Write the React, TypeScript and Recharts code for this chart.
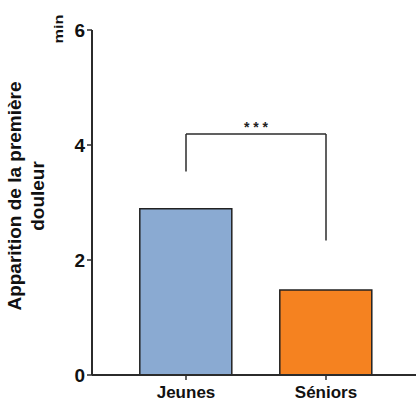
import React from 'react';
import { BarChart, Bar, Cell, XAxis, YAxis, ReferenceLine } from 'recharts';

const groupes = ['Jeunes', 'Séniors'];
const minutes = [2.89, 1.48];
const couleurs = ['#8aaad2', '#f58220'];
const graduations = [0, 2, 4, 6];

// crochet de significativité entre les deux groupes
const crochetHaut = 4.19;
const crochetBasJeunes = 3.54;
const crochetBasSeniors = 2.34;
const signif = '* * *';

const FONT = '"Liberation Sans", Arial, sans-serif';
const INK = '#2b2b2b';

const data = groupes.map((groupe, i) => ({ groupe, minutes: minutes[i] }));

export default function App() {
  return (
    <div style={{ position: 'absolute', left: 0, top: 0, width: 416, height: 398, background: '#fff', fontFamily: FONT }}>
      <BarChart
        width={416}
        height={398}
        data={data}
        margin={{ top: 30, right: 0, bottom: 0, left: 0 }}
        barCategoryGap="17%"
      >
        <XAxis
          dataKey="groupe"
          height={23}
          interval={0}
          padding={{ left: 24, right: 20 }}
          tickSize={5}
          tickMargin={6}
          axisLine={{ stroke: INK, strokeWidth: 2 }}
          tickLine={{ stroke: INK, strokeWidth: 1.5 }}
          tick={{ fontSize: 17, fontWeight: 700, fill: '#111', fontFamily: FONT }}
        />
        <YAxis
          width={92}
          domain={[0, 6]}
          ticks={graduations}
          tickSize={5}
          tickMargin={2}
          axisLine={{ stroke: INK, strokeWidth: 2 }}
          tickLine={{ stroke: INK, strokeWidth: 1.5 }}
          tick={{ fontSize: 19, fontWeight: 700, fill: '#111', fontFamily: FONT }}
        />
        <Bar dataKey="minutes" stroke="#222" strokeWidth={1.5} isAnimationActive={false}>
          {data.map((d, i) => (
            <Cell key={d.groupe} fill={couleurs[i]} />
          ))}
        </Bar>
        <ReferenceLine
          segment={[{ x: groupes[0], y: crochetBasJeunes }, { x: groupes[0], y: crochetHaut }]}
          stroke={INK}
          strokeWidth={1.5}
          ifOverflow="visible"
        />
        <ReferenceLine
          segment={[{ x: groupes[1], y: crochetBasSeniors }, { x: groupes[1], y: crochetHaut }]}
          stroke={INK}
          strokeWidth={1.5}
          ifOverflow="visible"
        />
        <ReferenceLine
          segment={[{ x: groupes[0], y: crochetHaut }, { x: groupes[1], y: crochetHaut }]}
          stroke={INK}
          strokeWidth={1.5}
          ifOverflow="visible"
          label={{ value: signif, position: 'top', offset: 2, fontSize: 14, fontWeight: 700, fill: '#222', fontFamily: FONT }}
        />
      </BarChart>
      {/* titre de l'axe Y et unité */}
      <svg width={416} height={398} style={{ position: 'absolute', left: 0, top: 0, pointerEvents: 'none' }}>
        <text
          transform="translate(21 196) rotate(-90)"
          textAnchor="middle"
          fontFamily={FONT}
          fontSize={19}
          fontWeight={700}
          fill="#111"
        >
          <tspan x={0} y={0}>Apparition de la première</tspan>
          <tspan x={0} y={23}>douleur</tspan>
        </text>
        <text
          transform="translate(63 29) rotate(-90)"
          textAnchor="middle"
          fontFamily={FONT}
          fontSize={12}
          fontWeight={700}
          fill="#111"
          textLength={29}
          lengthAdjust="spacingAndGlyphs"
        >
          min
        </text>
      </svg>
    </div>
  );
}
